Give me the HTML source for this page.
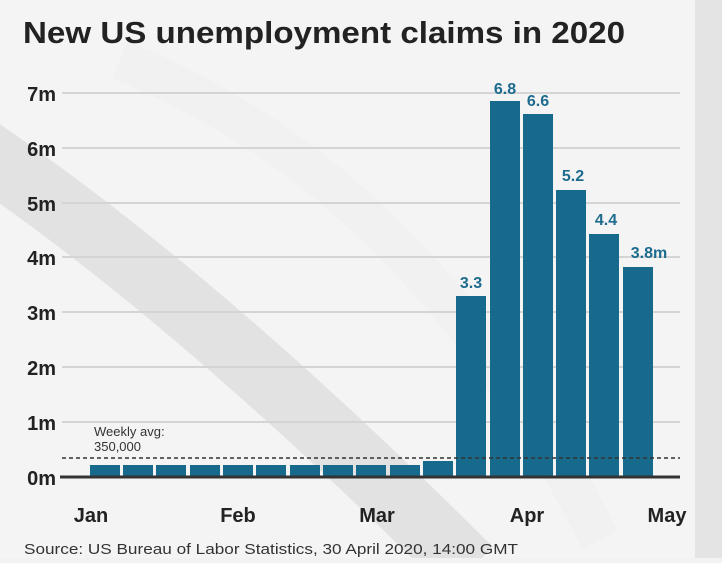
<!DOCTYPE html>
<html><head><meta charset="utf-8"><style>
html,body{margin:0;padding:0;}
body{width:722px;height:558px;overflow:hidden;background:#f2f2f2;}
svg text{font-family:"Liberation Sans",sans-serif;}
</style></head><body>
<svg width="722" height="558" viewBox="0 0 722 558" xmlns="http://www.w3.org/2000/svg">
<rect width="722" height="558" fill="#f4f4f4"/>
<rect x="695" y="0" width="27" height="558" fill="#e4e4e4"/>
<path d="M-20,150 Q200,300 470,570" stroke="#dcdcdc" stroke-width="65" fill="none" opacity="0.75"/>
<path d="M120,60 Q420,180 600,540" stroke="#eeeeee" stroke-width="40" fill="none" opacity="0.6"/>
<text x="23" y="43" font-size="31" font-weight="bold" fill="#222" textLength="602" lengthAdjust="spacingAndGlyphs">New US unemployment claims in 2020</text>
<g stroke="#d4d4d4" stroke-width="2">
<line x1="62" x2="680" y1="93" y2="93"/>
<line x1="62" x2="680" y1="148" y2="148"/>
<line x1="62" x2="680" y1="203" y2="203"/>
<line x1="62" x2="680" y1="257" y2="257"/>
<line x1="62" x2="680" y1="312" y2="312"/>
<line x1="62" x2="680" y1="367" y2="367"/>
<line x1="62" x2="680" y1="422" y2="422"/>
</g>
<g font-size="20" font-weight="bold" fill="#222" text-anchor="end">
<text x="56" y="101">7m</text>
<text x="56" y="156">6m</text>
<text x="56" y="211">5m</text>
<text x="56" y="265">4m</text>
<text x="56" y="320">3m</text>
<text x="56" y="375">2m</text>
<text x="56" y="430">1m</text>
<text x="56" y="485">0m</text>
</g>
<g fill="#176a8b">
<rect x="90" y="465" width="30" height="12"/>
<rect x="123" y="465" width="30" height="12"/>
<rect x="156" y="465" width="30" height="12"/>
<rect x="190" y="465" width="30" height="12"/>
<rect x="223" y="465" width="30" height="12"/>
<rect x="256" y="465" width="30" height="12"/>
<rect x="290" y="465" width="30" height="12"/>
<rect x="323" y="465" width="30" height="12"/>
<rect x="356" y="465" width="30" height="12"/>
<rect x="390" y="465" width="30" height="12"/>
<rect x="423" y="461" width="30" height="16"/>
<rect x="456" y="296" width="30" height="181"/>
<rect x="490" y="101" width="30" height="376"/>
<rect x="523" y="114" width="30" height="363"/>
<rect x="556" y="190" width="30" height="287"/>
<rect x="589" y="234" width="30" height="243"/>
<rect x="623" y="267" width="30" height="210"/>
</g>
<line x1="62" x2="680" y1="458" y2="458" stroke="#333" stroke-width="1.5" stroke-dasharray="4,3"/>
<line x1="60" x2="680" y1="477" y2="477" stroke="#333" stroke-width="3"/>
<g font-size="13" fill="#333">
<text x="94" y="436">Weekly avg:</text>
<text x="94" y="451">350,000</text>
</g>
<g font-size="16" font-weight="bold" fill="#1d6b8e" text-anchor="middle">
<text x="471" y="288">3.3</text>
<text x="505" y="94">6.8</text>
<text x="538" y="106">6.6</text>
<text x="573" y="181">5.2</text>
<text x="606" y="225">4.4</text>
<text x="649" y="258">3.8m</text>
</g>
<g font-size="20" font-weight="bold" fill="#222" text-anchor="middle">
<text x="91" y="522">Jan</text>
<text x="238" y="522">Feb</text>
<text x="377" y="522">Mar</text>
<text x="527" y="522">Apr</text>
<text x="667" y="522">May</text>
</g>
<text x="24" y="554" font-size="15" fill="#333" textLength="494" lengthAdjust="spacingAndGlyphs">Source: US Bureau of Labor Statistics, 30 April 2020, 14:00 GMT</text>
</svg>
</body></html>
